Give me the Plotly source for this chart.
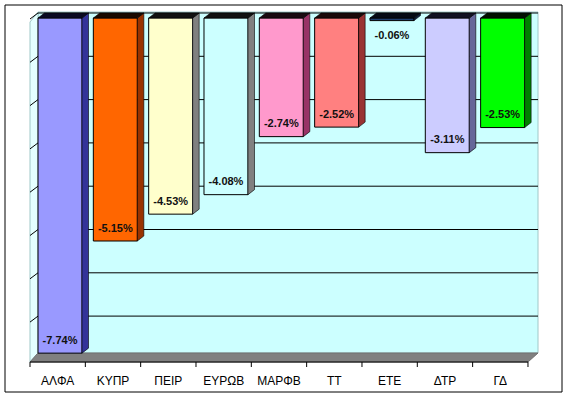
import plotly.graph_objects as go

# ---------------- data ----------------
categories = ["ΑΛΦΑ", "ΚΥΠΡ", "ΠΕΙΡ", "ΕΥΡΩΒ", "ΜΑΡΦΒ", "ΤΤ", "ΕΤΕ", "ΔΤΡ", "ΓΔ"]
values = [-7.74, -5.15, -4.53, -4.08, -2.74, -2.52, -0.06, -3.11, -2.53]
value_labels = ["-7.74%", "-5.15%", "-4.53%", "-4.08%", "-2.74%", "-2.52%", "-0.06%", "-3.11%", "-2.53%"]
gridlines = [-1, -2, -3, -4, -5, -6, -7]

# ---------------- styles ----------------
front_colors = ["#9999FF", "#FF6600", "#FFFFCC", "#CCFFFF", "#FF99CC", "#FF8080", "#1F3F6F", "#CCCCFF", "#00FF00"]
side_colors = ["#333399", "#993300", "#808080", "#808080", "#993366", "#993333", "#0F1F3F", "#666699", "#008000"]
top_colors = ["#0A0A22", "#1A0A00", "#111111", "#111111", "#1A0A11", "#1A0A0A", "#050A15", "#111122", "#001100"]

W, H = 568, 399
PXC = 55.33   # pixels per category
PYU = 43.3    # pixels per value unit
X0PX = 60.0   # pixel x of first bar centre
Y0PX = 18.0   # pixel y of value 0 on bar front plane


def dx(px):
    return px / PXC


def dy(px):
    return px / PYU


BAR_W = dx(44)
DEPTH_X = dx(6.5)
DEPTH_Y = dy(5)
X_FL = dx(30 - X0PX)
X_FR = X_FL + len(categories)
X_BL = dx(38 - X0PX)
X_BR = dx(538 - X0PX)
Y_TOP_BACK = dy(Y0PX - 12)
Y_TOP_FRONT = dy(Y0PX - 22)
Y_FLOOR_BACK = -dy(353 - Y0PX)
Y_FLOOR_FRONT = -dy(362 - Y0PX)
Y_CAT = -dy(382 - Y0PX)

fig = go.Figure()
shapes = []


def path_shape(xs, ys, fill, line="rgba(0,0,0,0)", lw=0):
    p = "M " + " L ".join(f"{x},{y}" for x, y in zip(xs, ys)) + " Z"
    shapes.append(dict(type="path", path=p, xref="x", yref="y", layer="below",
                       fillcolor=fill, line=dict(color=line, width=lw)))


def poly(xs, ys, fill, line="rgba(0,0,0,0)", lw=0):
    fig.add_trace(go.Scatter(x=xs + [xs[0]], y=ys + [ys[0]], mode="lines", fill="toself",
                             fillcolor=fill, line=dict(color=line, width=lw),
                             hoverinfo="skip", showlegend=False))


# back wall, left wall
path_shape([X_BL, X_BR, X_BR, X_BL], [Y_TOP_BACK, Y_TOP_BACK, Y_FLOOR_BACK, Y_FLOOR_BACK], "#CCFFFF", "#A0C8C8", 1)
path_shape([X_FL, X_BL, X_BL, X_FL], [Y_TOP_FRONT, Y_TOP_BACK, Y_FLOOR_BACK, Y_FLOOR_FRONT], "#E4FFFF", "#A0C8C8", 1)

# gridlines on back wall and left wall
for g in gridlines + [0]:
    shapes.append(dict(type="line", xref="x", yref="y", layer="below",
                       x0=X_BL, x1=X_BR, y0=g + DEPTH_Y, y1=g + DEPTH_Y,
                       line=dict(color="black", width=1)))
    shapes.append(dict(type="line", xref="x", yref="y", layer="below",
                       x0=X_FL, x1=X_BL, y0=g + DEPTH_Y - dy(6), y1=g + DEPTH_Y,
                       line=dict(color="black", width=1)))

# floor
path_shape([X_FL, X_FR, X_BR, X_BL], [Y_FLOOR_FRONT, Y_FLOOR_FRONT, Y_FLOOR_BACK, Y_FLOOR_BACK], "#808080", "#707070", 1)

# axis line and ticks
ax_x = [X_FL, X_FR, None]
ax_y = [Y_FLOOR_FRONT, Y_FLOOR_FRONT, None]
for k in range(len(categories) + 1):
    ax_x += [X_FL + k, X_FL + k, None]
    ax_y += [Y_FLOOR_FRONT, Y_FLOOR_FRONT - dy(5), None]
fig.add_trace(go.Scatter(x=ax_x, y=ax_y, mode="lines", line=dict(color="black", width=1),
                         hoverinfo="skip", showlegend=False))

# bar front faces
fig.add_trace(go.Bar(x=list(range(len(categories))), y=values, base=0, width=BAR_W,
                     marker=dict(color=front_colors, line=dict(color="black", width=1)),
                     hoverinfo="skip", showlegend=False))

# bar side and top faces
for i, v in enumerate(values):
    xl = i - BAR_W / 2
    xr = i + BAR_W / 2
    poly([xr, xr + DEPTH_X, xr + DEPTH_X, xr], [0, DEPTH_Y, v + DEPTH_Y, v], side_colors[i], "black", 0.6)
    poly([xl, xr, xr + DEPTH_X, xl + DEPTH_X], [0, 0, DEPTH_Y, DEPTH_Y], top_colors[i], "black", 0.6)

# value labels
lab_y = [v + dy(12) if v < -0.5 else v - dy(16) for v in values]
fig.add_trace(go.Scatter(x=list(range(len(categories))), y=lab_y, mode="text", text=value_labels,
                         textfont=dict(family="Liberation Sans", size=11, color="#111111"),
                         texttemplate="<b>%{text}</b>", hoverinfo="skip", showlegend=False))

# category labels
fig.add_trace(go.Scatter(x=[X_FL + 0.5 + i for i in range(len(categories))], y=[Y_CAT] * len(categories),
                         mode="text", text=categories,
                         textfont=dict(family="Liberation Sans", size=12, color="black"),
                         hoverinfo="skip", showlegend=False))

shapes.append(dict(type="rect", xref="paper", yref="paper",
                   x0=5 / W, x1=562 / W, y0=1 - 392 / H, y1=1 - 5 / H,
                   line=dict(color="black", width=1), fillcolor="rgba(0,0,0,0)"))

fig.update_layout(
    width=W, height=H,
    margin=dict(l=0, r=0, t=0, b=0),
    paper_bgcolor="white", plot_bgcolor="white",
    barmode="overlay",
    xaxis=dict(range=[dx(-X0PX), dx(W - X0PX)], visible=False, fixedrange=True),
    yaxis=dict(range=[-dy(H - Y0PX), dy(Y0PX)], visible=False, fixedrange=True),
    shapes=shapes,
)

fig.write_html("out.html", config={"displayModeBar": False},
               post_script="document.body.style.margin='0px';document.body.style.overflow='hidden';")
